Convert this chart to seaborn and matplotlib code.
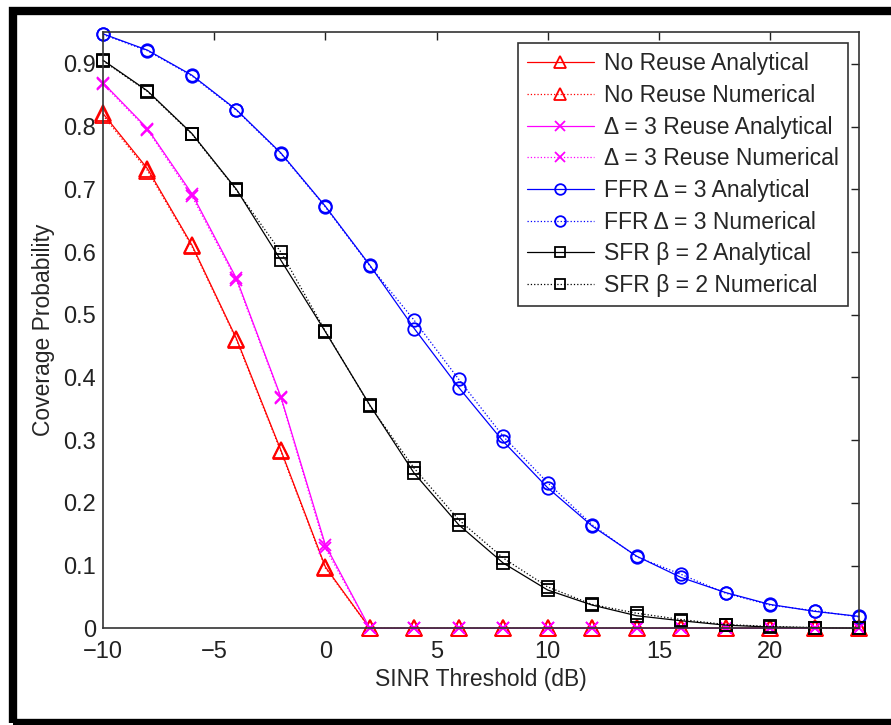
import numpy as np
import pandas as pd
import matplotlib
matplotlib.use("Agg")
import matplotlib.pyplot as plt
from matplotlib.patches import Rectangle
import seaborn as sns

# -------------------------------------------------------------
# podaci (ocitani sa slike)
# -------------------------------------------------------------
sinr_db = [-10, -8, -6, -4, -2, 0, 2, 4, 6, 8, 10, 12, 14, 16, 18, 20, 22, 24]

no_reuse_an = [0.821, 0.733, 0.611, 0.462, 0.284, 0.098, 0, 0, 0, 0, 0, 0, 0, 0, 0, 0, 0, 0]
no_reuse_num = [0.818, 0.730, 0.609, 0.460, 0.282, 0.096, 0, 0, 0, 0, 0, 0, 0, 0, 0, 0, 0, 0]

reuse3_an = [0.870, 0.797, 0.693, 0.558, 0.369, 0.133, 0, 0, 0, 0, 0, 0, 0, 0, 0, 0, 0, 0]
reuse3_num = [0.868, 0.795, 0.689, 0.555, 0.367, 0.128, 0, 0, 0, 0, 0, 0, 0, 0, 0, 0, 0, 0]

ffr_an = [0.948, 0.922, 0.882, 0.827, 0.758, 0.673, 0.579, 0.478, 0.384, 0.298,
          0.224, 0.163, 0.115, 0.081, 0.057, 0.038, 0.027, 0.019]
ffr_num = [0.947, 0.921, 0.881, 0.826, 0.757, 0.672, 0.578, 0.491, 0.397, 0.306,
           0.232, 0.165, 0.114, 0.086, 0.056, 0.037, 0.028, 0.018]

sfr_an = [0.906, 0.857, 0.789, 0.700, 0.587, 0.473, 0.356, 0.247, 0.165, 0.104,
          0.061, 0.037, 0.020, 0.012, 0.005, 0.002, 0.001, 0.0]
sfr_num = [0.905, 0.856, 0.788, 0.699, 0.600, 0.474, 0.355, 0.255, 0.173, 0.112,
           0.066, 0.038, 0.024, 0.014, 0.006, 0.003, 0.001, 0.0]

labels = ["No Reuse Analytical", "No Reuse Numerical",
          "Δ = 3 Reuse Analytical", "Δ = 3 Reuse Numerical",
          "FFR Δ = 3 Analytical", "FFR Δ = 3 Numerical",
          "SFR β = 2 Analytical", "SFR β = 2 Numerical"]

serije = [no_reuse_an, no_reuse_num, reuse3_an, reuse3_num,
          ffr_an, ffr_num, sfr_an, sfr_num]

# stil svake krive: boja, marker, linija
stilovi = [
    ("#ff0000", "^", "-"), ("#ff0000", "^", ":"),
    ("#ff00ff", "x", "-"), ("#ff00ff", "x", ":"),
    ("#0000ff", "o", "-"), ("#0000ff", "o", ":"),
    ("#000000", "s", "-"), ("#000000", "s", ":"),
]

df = pd.concat([pd.DataFrame({"sinr": sinr_db, "pc": s, "kriva": l})
                for s, l in zip(serije, labels)], ignore_index=True)

# -------------------------------------------------------------
# crtanje
# -------------------------------------------------------------
sns.set_style("white")
plt.rcParams["font.family"] = ["Liberation Sans", "DejaVu Sans"]

fig = plt.figure(figsize=(8.91, 7.25), dpi=100)
ax = fig.add_axes([0.1156, 0.1334, 0.8485, 0.8225])

for lab, (boja, mk, ls) in zip(labels, stilovi):
    d = df[df["kriva"] == lab]
    ms = 11 if mk == "^" else 9
    sns.lineplot(data=d, x="sinr", y="pc", ax=ax, color=boja, marker=mk,
                 linestyle=ls, linewidth=0.9, markersize=ms,
                 markerfacecolor="none", markeredgecolor=boja,
                 markeredgewidth=1.3, label=lab, clip_on=False)

ax.set_xlim(-10, 24)
ax.set_ylim(0, 0.951)
ax.set_xticks([-10, -5, 0, 5, 10, 15, 20])
ax.set_xticklabels(["\u221210", "\u22125", "0", "5", "10", "15", "20"])
ax.set_yticks(np.arange(0, 0.91, 0.1))
ax.set_yticklabels(["0", "0.1", "0.2", "0.3", "0.4", "0.5", "0.6", "0.7", "0.8", "0.9"])
ax.tick_params(direction="in", length=6, width=1, top=True, right=True,
               labelsize=17, colors="#222222")
ax.tick_params(axis="x", pad=9)
ax.tick_params(axis="y", pad=5)
for s in ax.spines.values():
    s.set_color("#333333")
    s.set_linewidth(1.2)

ax.set_xlabel("SINR Threshold (dB)", fontsize=16.5, labelpad=4)
ax.set_ylabel("Coverage Probability", fontsize=16.5, labelpad=6)

leg = ax.legend(loc="upper right", bbox_to_anchor=(0.9854, 0.9816),
                borderaxespad=0, fontsize=16.5, frameon=True, fancybox=False,
                edgecolor="black", handlelength=2.9, labelspacing=0.38,
                borderpad=0.4, handletextpad=0.45, markerscale=0.85)
leg.get_frame().set_linewidth(1.2)

# debeli crni okvir oko cele slike
W, H = 891, 725
fig.patches.append(Rectangle((12.5 / W, 1 - 723 / H), (900 - 12.5) / W,
                             (723 - 11) / H, transform=fig.transFigure,
                             fill=False, edgecolor="black", linewidth=6,
                             clip_on=False))

fig.savefig("out.png", dpi=100)
